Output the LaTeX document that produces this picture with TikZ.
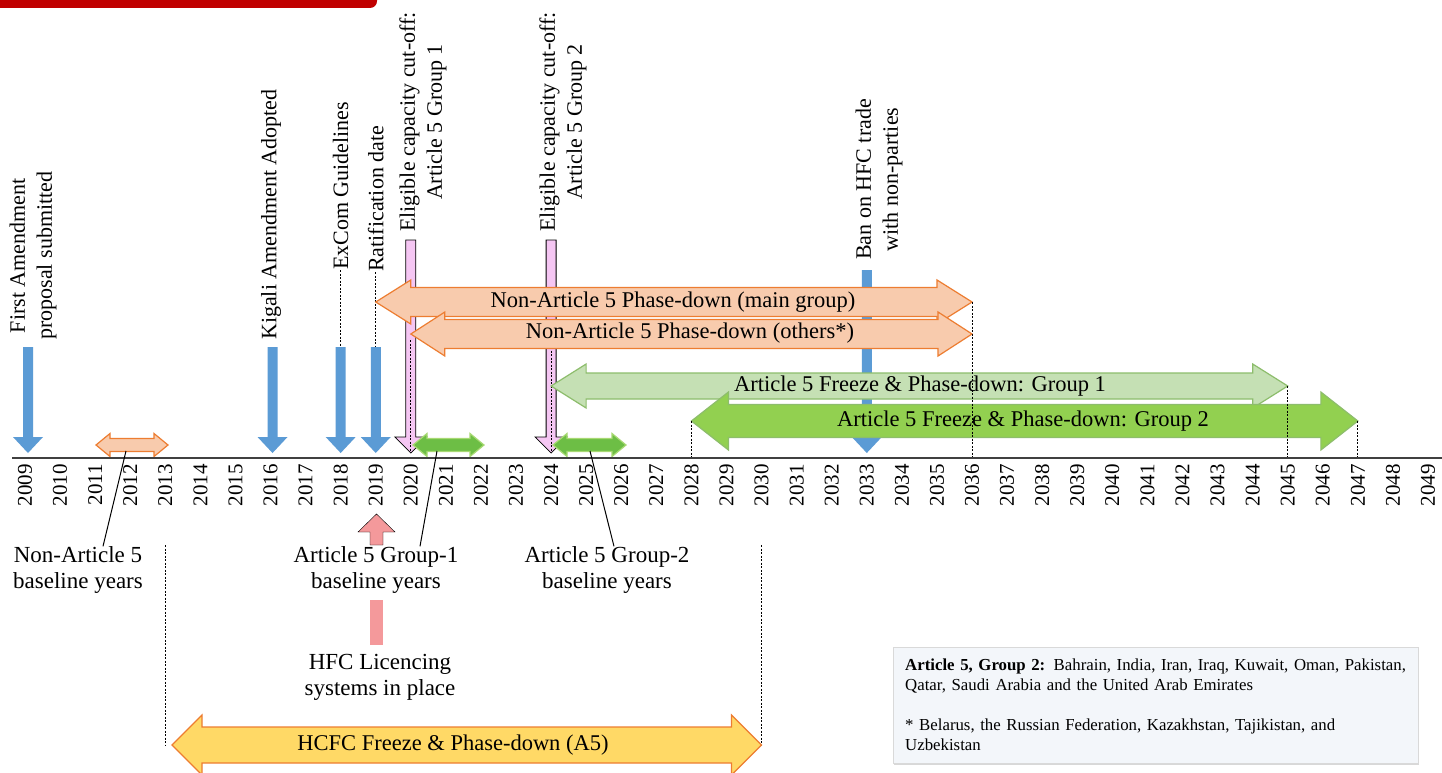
\documentclass[tikz,border=0pt]{standalone}
\usepackage{fontspec}
\setmainfont{Liberation Serif}
\usetikzlibrary{positioning,shadows}

\definecolor{barblue}{HTML}{5B9BD5}
\definecolor{edgeorange}{HTML}{ED7D31}
\definecolor{peach}{HTML}{F8CBAD}
\definecolor{palegreen}{HTML}{C5E0B4}
\definecolor{midgreen}{HTML}{92D050}
\definecolor{edgegreen}{HTML}{70AD47}
\definecolor{smallgreen}{HTML}{6DBE45}
\definecolor{lilac}{HTML}{F5C6F3}
\definecolor{salmon}{HTML}{F4999B}
\definecolor{gold}{HTML}{FFD966}
\definecolor{titlered}{HTML}{C00000}
\definecolor{notefill}{HTML}{F3F6FA}

% x position of a year
\newcommand{\yx}[1]{\fpeval{25+35.075*(#1-2009)}}
% horizontal double block arrow: style, x1, x2, yc, shaft half, head half, head length
\newcommand{\hdouble}[7]{%
  \draw[#1] (#2,#4) -- (#2+#7,#4-#6) -- (#2+#7,#4-#5) -- (#3-#7,#4-#5) -- (#3-#7,#4-#6)
    -- (#3,#4) -- (#3-#7,#4+#6) -- (#3-#7,#4+#5) -- (#2+#7,#4+#5) -- (#2+#7,#4+#6) -- cycle;}
% vertical block arrow: style, x, y tail, y head base, y tip, shaft half, head half
\newcommand{\blockv}[7]{%
  \draw[#1] (#2-#6,#3) -- (#2+#6,#3) -- (#2+#6,#4) -- (#2+#7,#4) -- (#2,#5)
    -- (#2-#7,#4) -- (#2-#6,#4) -- cycle;}

\tikzset{
  yearlbl/.style={rotate=90, anchor=east, inner sep=0pt, font=\fontsize{21}{21}\selectfont},
  vlbl/.style={rotate=90, anchor=west, inner sep=0pt, align=center, font=\fontsize{22}{27}\selectfont},
  hlbl/.style={inner sep=0pt, align=center, font=\fontsize{23}{26}\selectfont},
  arrlbl/.style={inner sep=0pt, font=\fontsize{22.5}{22}\selectfont},
  dashline/.style={black, line width=1pt, dash pattern=on 2pt off 1.5pt},
  bluearr/.style={fill=barblue, draw=none},
  lilacarr/.style={fill=lilac, draw=black, line width=0.8pt},
  peacharr/.style={fill=peach, draw=edgeorange, line width=1.2pt},
  g1arr/.style={fill=palegreen, draw=edgegreen!80, line width=1.2pt},
  g2arr/.style={fill=midgreen, draw=edgegreen!80, line width=1.2pt},
  smallg/.style={fill=smallgreen, draw=midgreen!80, line width=1.2pt},
  goldarr/.style={fill=gold, draw=edgeorange, line width=1.2pt}
}

\begin{document}
\begin{tikzpicture}[x=1pt, y=-1pt]
  \useasboundingbox[fill=white] (0,0) rectangle (1442,773);

  \fill[titlered, rounded corners=7pt] (-10,-10) rectangle (377,8);

  % cut-off arrows sit behind the rest
  \blockv{lilacarr}{\yx{2020}}{240}{437}{453}{5}{16}
  \blockv{lilacarr}{\yx{2024}}{240}{437}{453}{5}{16}

  % event arrows
  \blockv{bluearr}{\yx{2009}+3}{347}{437}{453}{5}{15}
  \blockv{bluearr}{\yx{2016}+2}{347}{437}{453}{5}{15}
  \blockv{bluearr}{\yx{2018}}{347}{437}{453}{5}{15}
  \blockv{bluearr}{\yx{2019}}{347}{437}{453}{5}{15}
  \blockv{bluearr}{\yx{2033}}{270}{437}{453}{5}{15}

  \coordinate (excomtop) at (\yx{2018},347);
  \coordinate (ratiftop) at (\yx{2019},347);

  \node[vlbl] (firstam) at (33,340) {First Amendment\\proposal submitted};
  \node[vlbl] (kigali) at (271,340) {Kigali Amendment Adopted};
  \node[vlbl] (excom) at (\yx{2018},270) {ExCom Guidelines};
  \node[vlbl] (ratif) at (\yx{2019},272) {Ratification date};
  \node[vlbl] (cutone) at (423,232) {Eligible capacity cut-off:\\Article 5 Group 1};
  \node[vlbl] (cuttwo) at (563,232) {Eligible capacity cut-off:\\Article 5 Group 2};
  \node[vlbl] (hfcban) at (879,260) {Ban on HFC trade\\with non-parties};

  \draw[dashline] (excom.west) -- (excomtop);
  \draw[dashline] (ratif.west) -- (ratiftop);
  \draw[dashline] (\yx{2020},340) -- (\yx{2020},452);
  \draw[dashline] (\yx{2024},340) -- (\yx{2024},452);

  % phase-down spans
  \hdouble{peacharr}{\yx{2019}}{\yx{2036}}{302}{14.5}{22}{35}
  \hdouble{peacharr}{\yx{2020}}{\yx{2036}}{334}{14.5}{22}{34}
  \hdouble{g1arr}{\yx{2024}}{\yx{2045}}{386}{13}{22}{35}
  \hdouble{g2arr}{\yx{2028}}{\yx{2047}}{421}{16.5}{29}{37}

  \node[arrlbl] (nmain) at (673,302) {Non-Article 5 Phase-down (main group)};
  \node[arrlbl] (nothers) at (690,333) {Non-Article 5 Phase-down (others*)};
  \node[arrlbl] (grpone) at (920,386) {Article 5 Freeze \& Phase-down: Group 1};
  \node[arrlbl] (grptwo) at (1023,421) {Article 5 Freeze \& Phase-down: Group 2};

  \draw[dashline] (\yx{2028},421) -- (\yx{2028},458);
  \draw[dashline] (\yx{2036},302) -- (\yx{2036},458);
  \draw[dashline] (\yx{2045},386) -- (\yx{2045},458);
  \draw[dashline] (\yx{2047},421) -- (\yx{2047},458);

  % baseline years
  \hdouble{peacharr}{96}{168}{445}{6.5}{11.5}{14}
  \hdouble{smallg}{413}{484}{445}{6.5}{11.5}{14}
  \hdouble{smallg}{553}{626}{445}{6.5}{11.5}{14}
  \coordinate (nabase) at (126,451);
  \coordinate (aonebase) at (437,451);
  \coordinate (atwobase) at (590,451);

  % time axis
  \draw[line width=1.8pt, black!75] (12,458) -- (1442,458);
  \foreach \y in {2009,...,2049} {
    \node[yearlbl] (y\y) at (\yx{\y},464) {\y};
  }

  \node[hlbl] (nabl) at (78,570) {Non-Article 5\\baseline years};
  \node[hlbl] (aonebl) at (376,570) {Article 5 Group-1\\baseline years};
  \node[hlbl] (atwobl) at (607,570) {Article 5 Group-2\\baseline years};
  \draw[line width=1pt] ([xshift=25pt]nabl.north) -- (nabase);
  \draw[line width=1pt] ([xshift=44pt]aonebl.north) -- (aonebase);
  \draw[line width=1pt] ([xshift=7pt]atwobl.north) -- (atwobase);

  % licencing
  \blockv{fill=salmon}{376.5}{545}{532}{514}{6.5}{18.5}
  \fill[salmon] (370,600) rectangle (383,645);
  \node[hlbl] (licence) at (380,677) {HFC Licencing\\systems in place};

  % HCFC
  \draw[dashline] (\yx{2013},545) -- (\yx{2013},745);
  \draw[dashline] (\yx{2030},545) -- (\yx{2030},745);
  \hdouble{goldarr}{172}{\yx{2030}}{745}{18}{30}{30}
  \node[arrlbl] (hcfc) at (453,745) {HCFC Freeze \& Phase-down (A5)};

  % note
  \node[draw=black!15, fill=notefill, drop shadow={opacity=0.3, shadow xshift=1pt, shadow yshift=-2pt},
        anchor=north west, text width=501pt, minimum height=116pt, inner xsep=12pt, inner ysep=10pt,
        align=left, font=\fontsize{16.8}{20}\selectfont] (note) at (893,647)
    {\textbf{Article 5, Group 2:} Bahrain, India, Iran, Iraq, Kuwait, Oman, Pakistan,\\
     Qatar, Saudi Arabia and the United Arab Emirates\\[20pt]
     * Belarus, the Russian Federation, Kazakhstan, Tajikistan, and\\
     Uzbekistan};
\end{tikzpicture}
\end{document}
